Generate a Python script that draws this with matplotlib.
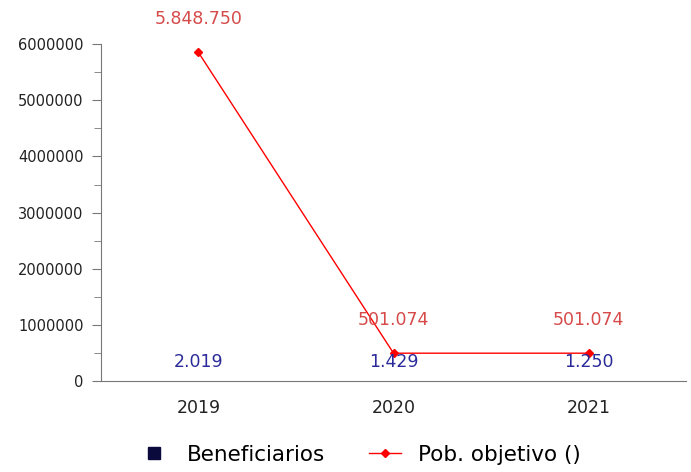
import matplotlib.pyplot as plt
from matplotlib.ticker import MultipleLocator
from matplotlib.lines import Line2D

years = ["2019", "2020", "2021"]
beneficiarios = [2019, 1429, 1250]
beneficiarios_lbl = ["2.019", "1.429", "1.250"]
pob_objetivo = [5848750, 501074, 501074]
pob_lbl = ["5.848.750", "501.074", "501.074"]

plt.rcParams['font.family'] = ['DejaVu Sans']

fig = plt.figure(figsize=(6.91, 4.72), dpi=100)
ax = fig.add_axes([0.146, 0.192, 0.847, 0.715])

x = range(len(years))
ax.bar(x, beneficiarios, width=0.6, color='#0a0a3c')
for i, v in enumerate(beneficiarios):
    ax.annotate(beneficiarios_lbl[i], (i, v), xytext=(0, 14), textcoords='offset points',
                ha='center', va='center', color='#2a2a9a', fontsize=12.5)

ax.plot(x, pob_objetivo, color='#ff0000', linewidth=1, marker='D', markersize=4.5)
for i, v in enumerate(pob_objetivo):
    ax.annotate(pob_lbl[i], (i, v), xytext=(0, 24), textcoords='offset points',
                ha='center', va='center', color='#d64a4a', fontsize=12.5)

ax.set_xlim(-0.5, 2.5)
ax.set_ylim(0, 6000000)
ax.set_xticks(list(x))
ax.set_xticklabels(years, fontsize=12.5, color='#222222')
ax.tick_params(axis='x', length=0, pad=13)
ax.yaxis.set_major_locator(MultipleLocator(1000000))
ax.yaxis.set_minor_locator(MultipleLocator(500000))
ax.tick_params(axis='y', which='major', length=6.5, color='#777777', labelsize=10.5,
               labelcolor='#222222', pad=6)
ax.tick_params(axis='y', which='minor', length=5, color='#777777')
ax.ticklabel_format(axis='y', style='plain', useOffset=False)
for s in ['top', 'right']:
    ax.spines[s].set_visible(False)
ax.spines['left'].set_color('#777777')
ax.spines['bottom'].set_color('#777777')

handles = [
    Line2D([], [], marker='s', color='none', markerfacecolor='#0a0a3c', markeredgecolor='#0a0a3c', markersize=9),
    Line2D([], [], color='#ff0000', linewidth=1, marker='D', markersize=4.5),
]
fig.legend(handles, ['Beneficiarios', 'Pob. objetivo ()'], loc='center', bbox_to_anchor=(0.52, 0.036),
           ncol=2, frameon=False, fontsize=15.5, handlelength=1.5, handletextpad=0.8, columnspacing=2.0)

fig.savefig('out.png', dpi=100)
